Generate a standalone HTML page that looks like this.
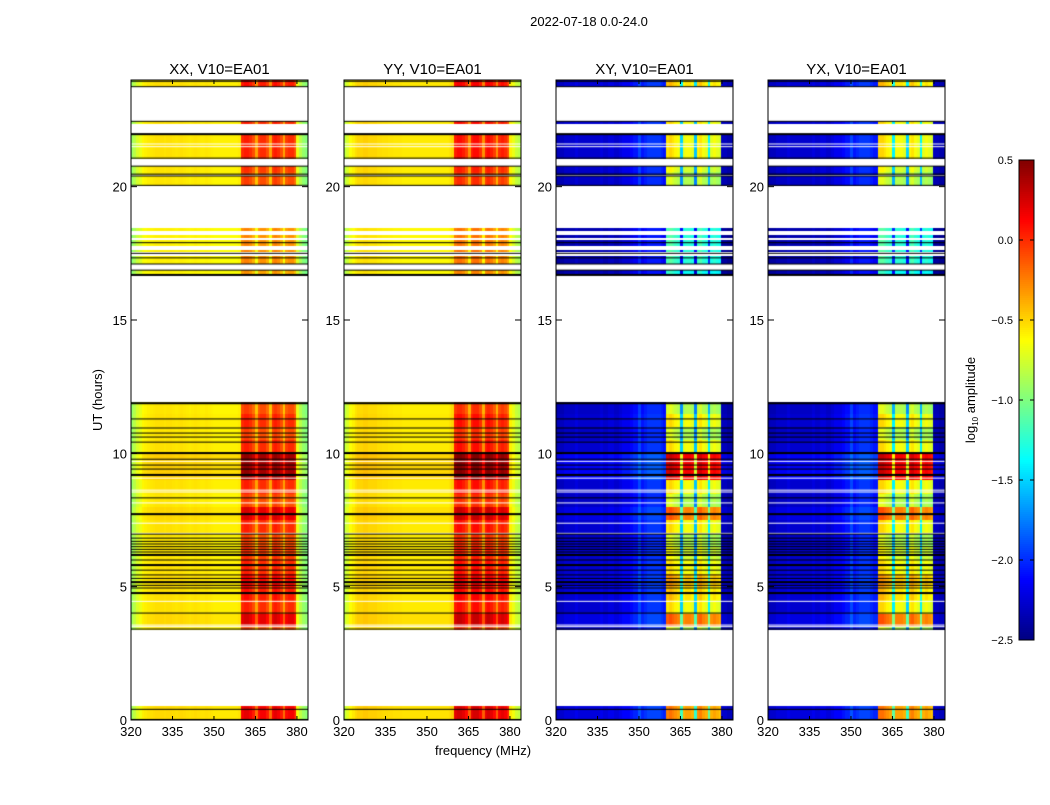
<!DOCTYPE html>
<html><head><meta charset="utf-8"><style>
body{margin:0;background:#fff;width:1050px;height:800px;overflow:hidden;font-family:"Liberation Sans",sans-serif}
svg text{font-family:"Liberation Sans",sans-serif;fill:#000}
canvas{display:block}
</style></head><body>
<svg id="fig" width="1050" height="800" xmlns="http://www.w3.org/2000/svg">
<rect width="1050" height="800" fill="#fff"/>
<text x="589" y="26" font-size="13" text-anchor="middle">2022-07-18 0.0-24.0</text>
<text x="102" y="400" font-size="13" text-anchor="middle" transform="rotate(-90 102 400)">UT (hours)</text>
<text x="483" y="755" font-size="13" text-anchor="middle">frequency (MHz)</text>
<g id="panels"></g>
<g id="cbar"></g>
<text x="975" y="400" font-size="13" text-anchor="middle" transform="rotate(-90 975 400)">log<tspan font-size="8" dy="3">10</tspan><tspan dy="-3"> amplitude</tspan></text>
</svg>
<script>
// ---- data ----
const polNames = ["XX","YY","XY","YX"];
const freqStart = 320, freqEnd = 384;
const specXX = [-0.95,-0.85,-0.75,-0.7,-0.62,-0.6,-0.58,-0.57,-0.56,-0.55,-0.55,-0.55,-0.56,-0.55,-0.55,-0.56,-0.57,-0.56,-0.55,-0.56,-0.57,-0.58,-0.57,-0.56,-0.57,-0.58,-0.58,-0.57,-0.58,-0.59,-0.6,-0.6,-0.6,-0.6,-0.6,-0.6,-0.6,-0.6,-0.6,-0.58,
  -0.1,-0.05,-0.05,-0.1,-0.2,-0.45,-0.15,-0.1,-0.1,-0.2,-0.45,-0.1,-0.05,-0.1,-0.2,-0.45,-0.15,-0.1,-0.1,-0.2,-0.7,-0.85,-0.95,-1.0];
const specYY = [-0.85,-0.75,-0.65,-0.6,-0.55,-0.52,-0.52,-0.5,-0.5,-0.52,-0.52,-0.52,-0.54,-0.54,-0.55,-0.55,-0.56,-0.56,-0.57,-0.57,-0.57,-0.58,-0.58,-0.58,-0.58,-0.58,-0.58,-0.58,-0.58,-0.58,-0.58,-0.58,-0.58,-0.58,-0.58,-0.58,-0.58,-0.58,-0.56,-0.52,
  -0.05,0.0,0.0,-0.05,-0.15,-0.4,-0.05,0.0,0.0,-0.1,-0.4,-0.05,0.0,-0.05,-0.15,-0.4,-0.1,-0.05,-0.1,-0.2,-0.6,-0.7,-0.8,-0.85];
const specXY = [-2.4,-2.35,-2.35,-2.3,-2.3,-2.3,-2.3,-2.25,-2.3,-2.3,-2.3,-2.3,-2.3,-2.3,-2.3,-2.3,-2.25,-2.3,-2.3,-2.25,-2.25,-2.3,-2.3,-2.25,-2.2,-2.2,-2.2,-2.15,-2.1,-2.1,-1.95,-2.1,-2.05,-2.0,-2.0,-2.0,-2.0,-2.0,-2.05,-2.1,
  -0.75,-0.7,-0.75,-0.8,-0.85,-1.7,-0.9,-0.85,-0.85,-0.9,-1.75,-0.8,-0.75,-0.85,-0.9,-1.6,-0.9,-0.85,-0.9,-0.95,-2.35,-2.35,-2.4,-2.4];
const specYX = [-2.4,-2.35,-2.35,-2.3,-2.3,-2.3,-2.3,-2.25,-2.3,-2.3,-2.3,-2.3,-2.3,-2.3,-2.3,-2.3,-2.25,-2.3,-2.3,-2.25,-2.25,-2.3,-2.3,-2.25,-2.2,-2.2,-2.2,-2.15,-2.1,-2.1,-1.95,-2.1,-2.05,-2.0,-2.0,-2.0,-2.0,-2.05,-2.1,-2.1,
  -0.7,-0.7,-0.75,-0.8,-0.85,-1.6,-0.85,-0.85,-0.85,-0.9,-1.7,-0.8,-0.75,-0.85,-0.9,-1.6,-0.9,-0.85,-0.9,-0.95,-2.35,-2.35,-2.4,-2.4];
// per half-hour row gain (hours 0..24)
const rowGain = [0.25,0,0,0,0,0,0,0.3,0.1,0.15,0.2,0.1,0.05,0.0,0.1,0.3,0.0,0.1,0.5,0.5,0.1,0.0,0.1,0.0,
  0,0,0,0,0,0,0,0,0,-0.25,-0.2,-0.2,-0.2,0,0,0,0.0,0.05,0.1,0.1,0.1,0.1,0.1,0.15];
const polGainScale = [1,1,2,2];
// time segments with data [startHour, endHour]
const segStart = [0.0,3.41,16.69,17.1,17.55,17.8,18.1,18.35,20.05,20.47,21.07,22.35,23.75];
const segEnd   = [0.49,11.9,16.87,17.37,17.62,18.0,18.18,18.42,20.4,20.77,21.97,22.45,24.0];
// flagged/black separator rows (hours) and thick ones
const blackRows = [0.02,0.4,3.41,4.01,4.95,5.05,5.31,5.44,5.62,6.0,6.3,6.4,6.5,6.6,6.7,6.82,6.97,8.33,9.41,9.56,9.78,10.42,10.61,10.76,10.95,11.29,16.87,17.1,17.33,17.5,17.9,20.05,20.4,20.47,20.77,21.07,22.45,23.75,23.95];
const thickRows = [4.76,5.17,5.81,6.19,7.72,9.19,10.01,11.88,16.69,21.97];
const whiteRows = [3.5,3.56,4.45,7.0,7.38,8.14,8.55,8.62,9.07,9.7,21.5,21.6];
const xTicks = [320,335,350,365,380];
const yTicks = [0,5,10,15,20];
const cbTicks = [0.5,0.0,-0.5,-1.0,-1.5,-2.0,-2.5];
const specs = [specXX,specYY,specXY,specYX];

// ---- layout ----
const panelX = [131,344,556,768], pw = 177, pTop = 80, pBot = 720;
const vmin = -2.5, vmax = 0.5;
function yOf(h){return pBot - (pBot-pTop)*h/24;}
function jet(v){
  let t=(v-vmin)/(vmax-vmin); t=Math.max(0,Math.min(1,t));
  const f=(x)=>Math.round(255*Math.max(0,Math.min(1,x)));
  const r=Math.min(4*t-1.5,-4*t+4.5), g=Math.min(4*t-0.5,-4*t+3.5), b=Math.min(4*t+0.5,-4*t+2.5);
  return `rgb(${f(r)},${f(g)},${f(b)})`;
}
const NS="http://www.w3.org/2000/svg";
function el(tag,attrs,parent){const e=document.createElementNS(NS,tag);for(const k in attrs)e.setAttribute(k,attrs[k]);parent.appendChild(e);return e;}
const panels=document.getElementById('panels');
polNames.forEach((p,pi)=>{
  const x0=panelX[pi];
  const xOf=(f)=>x0+pw*(f-freqStart)/(freqEnd-freqStart);
  const g=el('g',{},panels);
  
  
  const t=el('text',{x:x0+pw/2,y:74,'font-size':15,'text-anchor':'middle'},g);
  t.textContent=p+", V10=EA01";
  
  
  const fo=el('foreignObject',{x:x0,y:pTop,width:pw,height:pBot-pTop},g);
  const cv=document.createElement('canvas');cv.width=pw;cv.height=pBot-pTop;fo.appendChild(cv);
  
  
  const c=cv.getContext('2d');
  const spec=specs[pi];
  const dh=0.1;
  for(let s=0;s<segStart.length;s++){
    for(let h=segStart[s];h<segEnd[s]-1e-6;h+=dh){
      const h1=Math.min(h+dh,segEnd[s]);
      const gain=rowGain[Math.min(47,Math.floor(h*2))]*polGainScale[pi];
      const ya=yOf(h1)-pTop, yb=yOf(h)-pTop;
      for(let j=0;j<spec.length;j++){
        const f=freqStart+j;
        const inBand=(f>=360&&f<380)?1:0.15;
        const v=spec[j]+gain*inBand;
        c.fillStyle=jet(v);
        const xa=xOf(f)-x0, xb=xOf(f+1)-x0;
        c.fillRect(Math.floor(xa),Math.floor(ya),Math.ceil(xb)-Math.floor(xa),Math.ceil(yb)-Math.floor(ya));
      }
    }
  }
  c.fillStyle='#fff';whiteRows.forEach(h=>c.fillRect(0,yOf(h)-pTop-0.5,pw,1));
  c.fillStyle='#000';blackRows.forEach(h=>c.fillRect(0,yOf(h)-pTop-0.5,pw,1));
  thickRows.forEach(h=>c.fillRect(0,yOf(h)-pTop-1,pw,2));
  el('rect',{x:x0,y:pTop,width:pw,height:pBot-pTop,fill:'none',stroke:'#000','stroke-width':1},g);
  xTicks.forEach(v=>{
    const x=xOf(v);
    el('line',{x1:x,x2:x,y1:pBot,y2:pBot-4,stroke:'#000'},g);
    el('line',{x1:x,x2:x,y1:pTop,y2:pTop+4,stroke:'#000'},g);
    const tt=el('text',{x:x,y:pBot+16,'font-size':13,'text-anchor':'middle'},g);tt.textContent=v;
    
    
  });
  yTicks.forEach(v=>{
    const y=yOf(v);
    el('line',{x1:x0,x2:x0+6,y1:y,y2:y,stroke:'#000'},g);
    el('line',{x1:x0+pw,x2:x0+pw-6,y1:y,y2:y,stroke:'#000'},g);
    const tt=el('text',{x:x0-4,y:y+5,'font-size':13,'text-anchor':'end'},g);tt.textContent=v;
    
    
  });
});
// colorbar
const cb=document.getElementById('cbar');
const cbx=1019,cbw=15,cbt=160,cbb=640;
const cbY=(v)=>cbb-(cbb-cbt)*(v-vmin)/(vmax-vmin);
for(let i=0;i<240;i++){
  const v=vmin+(vmax-vmin)*(i+0.5)/240;
  el('rect',{x:cbx,y:cbY(v)-1.5,width:cbw,height:2.6,fill:jet(v)},cb);
}
el('rect',{x:cbx,y:cbt,width:cbw,height:cbb-cbt,fill:'none',stroke:'#000','stroke-width':1},cb);
cbTicks.forEach(v=>{
  const y=cbY(v);
  el('line',{x1:cbx,x2:cbx+4,y1:y,y2:y,stroke:'#000'},cb);
  el('line',{x1:cbx+cbw,x2:cbx+cbw-4,y1:y,y2:y,stroke:'#000'},cb);
  const tt=el('text',{x:1013,y:y+4,'font-size':11,'text-anchor':'end'},cb);
  tt.textContent=v.toFixed(1).replace('-','\u2212');
  
  
});
</script>
</body></html>
